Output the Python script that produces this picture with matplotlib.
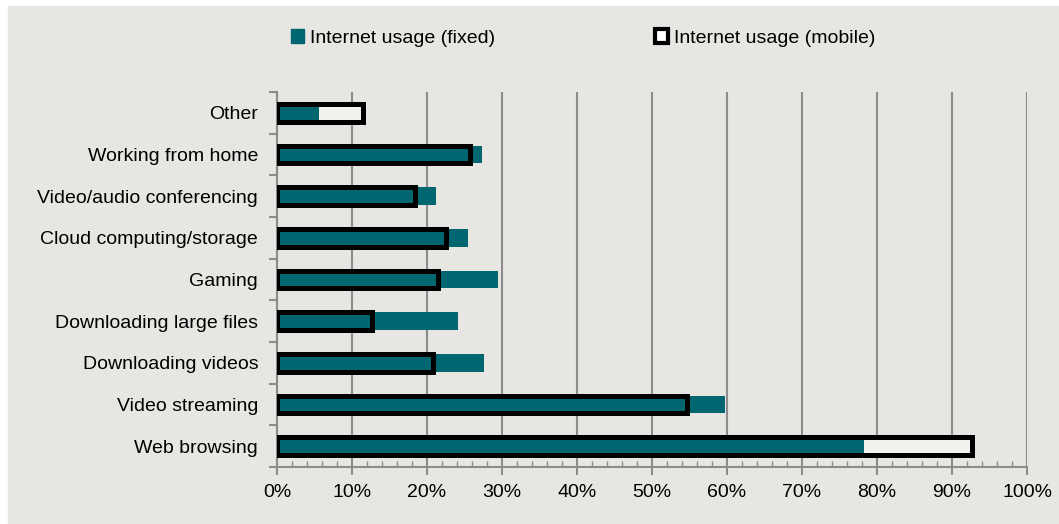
import matplotlib.pyplot as plt
from matplotlib.patches import Rectangle, Patch
from matplotlib.ticker import MultipleLocator, FixedLocator, PercentFormatter

categories = ["Web browsing", "Video streaming", "Downloading videos",
              "Downloading large files", "Gaming", "Cloud computing/storage",
              "Video/audio conferencing", "Working from home", "Other"]
fixed = [78.3, 59.7, 27.6, 24.1, 29.5, 25.5, 21.2, 27.3, 5.6]
mobile = [92.6, 54.7, 20.8, 12.7, 21.5, 22.5, 18.4, 25.8, 11.5]

teal = "#00666f"
bg = "#e7e6e2"
light = "#f2f1ee"

plt.rcParams["font.family"] = ["Liberation Sans", "DejaVu Sans"]

fig = plt.figure(figsize=(10.59, 5.24), dpi=100)
fig.patches.append(Rectangle((8 / 1059, 0), 1 - 8 / 1059, 1 - 6 / 524,
                             transform=fig.transFigure, color=bg, zorder=-10))

ax = fig.add_axes([277 / 1059, 1 - 467 / 524, 750 / 1059, 375 / 524])
ax.set_facecolor(bg)

y = range(len(categories))
h = 0.43
ax.barh(y, mobile, height=h, color=light, zorder=2)
ax.barh(y, fixed, height=h, color=teal, zorder=3)
ax.barh(y, mobile, height=h, facecolor="none", edgecolor="black", linewidth=3.6, zorder=4)

ax.set_xlim(0, 100)
ax.set_ylim(-0.5, len(categories) - 0.5)
ax.xaxis.set_major_locator(MultipleLocator(10))
ax.xaxis.set_minor_locator(MultipleLocator(2))
ax.xaxis.set_major_formatter(PercentFormatter(decimals=0))
ax.set_yticks(list(y))
ax.set_yticklabels(categories)
ax.yaxis.set_minor_locator(FixedLocator([i - 0.5 for i in range(len(categories) + 1)]))
ax.tick_params(axis="y", which="major", length=0, pad=13.5, labelsize=14)
ax.tick_params(axis="y", which="minor", length=6, width=1.5, color="#8c8c8c", direction="out")
ax.tick_params(axis="x", which="major", length=6, width=1.5, color="#8c8c8c", direction="out", labelsize=14, pad=6)
ax.tick_params(axis="x", which="minor", length=4, width=1, color="#8c8c8c", direction="in")
ax.grid(axis="x", which="major", color="#8c8c8c", linewidth=1.5, zorder=0)
ax.set_axisbelow(True)
for s in ["top", "right"]:
    ax.spines[s].set_visible(False)
for s in ["left", "bottom"]:
    ax.spines[s].set_color("#8c8c8c")
    ax.spines[s].set_linewidth(1.5)

handles = [Patch(facecolor=teal, edgecolor=teal),
           Patch(facecolor="white", edgecolor="black", linewidth=3)]
fig.legend(handles, ["Internet usage (fixed)", "Internet usage (mobile)"],
           loc="center", bbox_to_anchor=(583 / 1059, 1 - 38 / 524), ncol=2,
           frameon=False, fontsize=14, handlelength=0.7, handleheight=0.7,
           handletextpad=0.3, columnspacing=8.2)

fig.savefig("out.png", dpi=100)
